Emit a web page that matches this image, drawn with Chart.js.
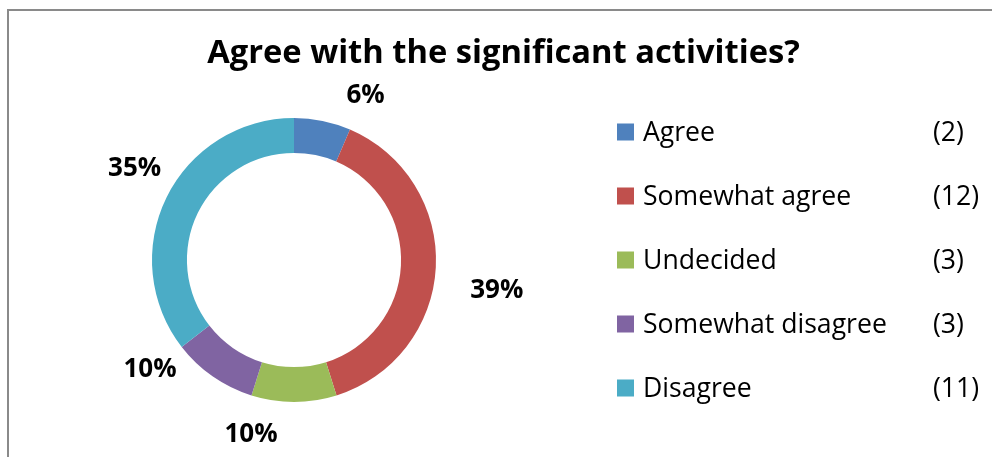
<!DOCTYPE html>
<html>
<head>
<meta charset="utf-8">
<script src="https://cdn.jsdelivr.net/npm/chart.js@4"></script>
<style>
  html, body { margin: 0; padding: 0; background: #ffffff; }
  #wrap { width: 992px; height: 457px; position: relative; overflow: hidden; }
</style>
</head>
<body>
<div id="wrap"><canvas id="chart" width="992" height="457"></canvas></div>
<script>
// Survey answers
const titleText = 'Agree with the significant activities?';
const categories = ['Agree', 'Somewhat agree', 'Undecided', 'Somewhat disagree', 'Disagree'];
const counts = [2, 12, 3, 3, 11];
const percentLabels = ['6%', '39%', '10%', '10%', '35%'];
const sliceColors = ['#4F81BD', '#C0504D', '#9BBB59', '#8064A2', '#4BACC6'];

// Extra shift applied to each percentage label after placing it outside its slice
const labelNudge = [[35, 12], [21, 19], [-43, -9], [-40, -42], [4, -13]];

const FONT = '"Open Sans", "DejaVu Sans", sans-serif';

// Outer frame and title
const framePlugin = {
  id: 'frame',
  beforeDraw(chart) {
    const ctx = chart.ctx;
    ctx.save();
    ctx.fillStyle = '#ffffff';
    ctx.fillRect(0, 0, chart.width, chart.height);
    ctx.strokeStyle = '#8a8a8a';
    ctx.lineWidth = 2;
    ctx.strokeRect(8, 10, chart.width + 40, chart.height + 40);
    ctx.restore();
  },
  afterDraw(chart) {
    const ctx = chart.ctx;
    ctx.save();
    ctx.fillStyle = '#000000';
    ctx.font = 'bold 32.7px ' + FONT;
    ctx.textAlign = 'center';
    ctx.textBaseline = 'alphabetic';
    ctx.fillText(titleText, 503.5, 63);
    ctx.restore();
  }
};

// Percentage labels placed from each arc's geometry
const percentPlugin = {
  id: 'percentLabels',
  afterDatasetsDraw(chart) {
    const ctx = chart.ctx;
    const meta = chart.getDatasetMeta(0);
    ctx.save();
    ctx.fillStyle = '#000000';
    ctx.font = 'bold 26px ' + FONT;
    ctx.textAlign = 'center';
    ctx.textBaseline = 'alphabetic';
    meta.data.forEach((arc, i) => {
      const p = arc.getProps(['x', 'y', 'startAngle', 'endAngle', 'outerRadius'], true);
      const mid = (p.startAngle + p.endAngle) / 2;
      const r = p.outerRadius + 40;
      const cx = p.x + Math.cos(mid) * r + labelNudge[i][0];
      const cy = p.y + Math.sin(mid) * r + labelNudge[i][1];
      ctx.fillText(percentLabels[i], cx, cy + 26 * 0.357);
    });
    ctx.restore();
  }
};

// Legend on the right with the answer counts in their own column
const legendPlugin = {
  id: 'countLegend',
  afterDraw(chart) {
    const ctx = chart.ctx;
    ctx.save();
    ctx.font = '26.6px ' + FONT;
    ctx.textBaseline = 'alphabetic';
    ctx.textAlign = 'left';
    categories.forEach((name, i) => {
      const cy = 132 + i * 64;
      ctx.fillStyle = sliceColors[i];
      ctx.fillRect(617, cy - 8.5, 17, 17);
      ctx.fillStyle = '#000000';
      ctx.fillText(name, 643, cy + 9);
      ctx.fillText('(' + counts[i] + ')', 933, cy + 9);
    });
    ctx.restore();
  }
};

new Chart(document.getElementById('chart'), {
  type: 'doughnut',
  data: {
    labels: categories,
    datasets: [{
      data: counts,
      backgroundColor: sliceColors,
      borderWidth: 0,
      hoverOffset: 0
    }]
  },
  options: {
    responsive: false,
    animation: false,
    radius: 142,
    cutout: '75.4%',
    layout: { padding: { left: 144, right: 548, top: 110, bottom: 47 } },
    plugins: {
      legend: { display: false },
      title: { display: false },
      tooltip: { enabled: false }
    }
  },
  plugins: [framePlugin, percentPlugin, legendPlugin]
});
</script>
</body>
</html>
